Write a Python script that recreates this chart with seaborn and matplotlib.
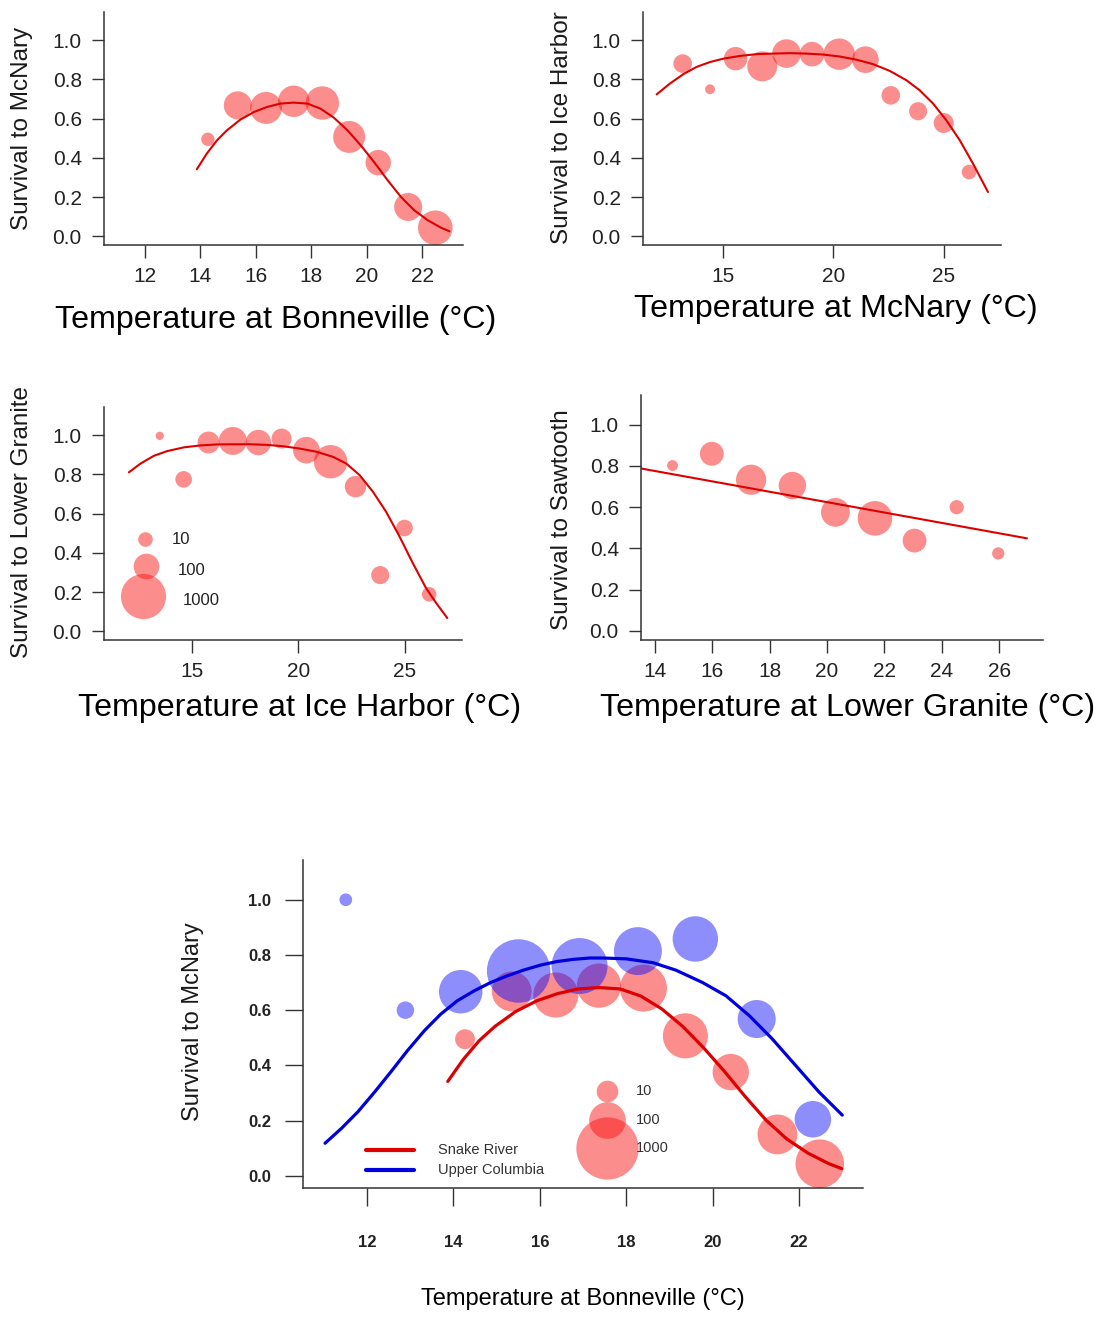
import numpy as np
import pandas as pd
import matplotlib
matplotlib.use("Agg")
import matplotlib.pyplot as plt
import seaborn as sns

sns.set_theme(style="ticks")
plt.rcParams["font.family"] = ["Liberation Sans", "DejaVu Sans"]

# ---------------- data ----------------
# Snake River: temperature at Bonneville vs survival to McNary
bon_temp = [14.27, 15.35, 16.37, 17.37, 18.40, 19.37, 20.42, 21.50, 22.48]
bon_surv = [0.495, 0.668, 0.655, 0.689, 0.680, 0.507, 0.376, 0.150, 0.044]
bon_n = [7, 143, 245, 227, 293, 245, 96, 143, 338]
bon_fit_t = [13.87, 14.23, 14.60, 14.96, 15.44, 15.93, 16.41, 16.89, 17.37, 17.86,
             18.34, 18.82, 19.31, 19.79, 20.27, 20.76, 21.24, 21.72, 22.21, 22.69, 22.99]
bon_fit_s = [0.342, 0.422, 0.490, 0.541, 0.595, 0.634, 0.660, 0.677, 0.682, 0.677,
             0.651, 0.605, 0.541, 0.464, 0.379, 0.286, 0.201, 0.133, 0.082, 0.044, 0.026]

# Temperature at McNary vs survival to Ice Harbor
mcn_temp = [13.16, 14.40, 15.56, 16.77, 17.87, 19.03, 20.26, 21.45, 22.60, 23.84, 25.00, 26.15]
mcn_surv = [0.881, 0.750, 0.906, 0.867, 0.932, 0.929, 0.929, 0.901, 0.719, 0.638, 0.578, 0.328]
mcn_n = [27, 2, 69, 189, 155, 84, 227, 116, 27, 24, 36, 10]
mcn_fit_t = [11.98, 12.58, 13.19, 13.79, 14.40, 15.00, 15.76, 16.51, 17.27, 18.02, 18.78,
             19.53, 20.29, 21.04, 21.80, 22.55, 23.31, 23.91, 24.52, 25.12, 25.73, 26.33, 27.01]
mcn_fit_s = [0.724, 0.779, 0.827, 0.864, 0.889, 0.906, 0.920, 0.929, 0.932, 0.934, 0.932,
             0.927, 0.917, 0.901, 0.878, 0.844, 0.796, 0.745, 0.677, 0.592, 0.490, 0.371, 0.226]

# Temperature at Ice Harbor vs survival to Lower Granite
ice_temp = [13.49, 14.61, 15.78, 16.92, 18.12, 19.21, 20.37, 21.51, 22.68, 23.84, 24.98, 26.14]
ice_surv = [0.997, 0.775, 0.963, 0.971, 0.963, 0.983, 0.924, 0.865, 0.738, 0.287, 0.527, 0.189]
ice_n = [1, 17, 53, 143, 96, 36, 116, 293, 48, 24, 17, 10]
ice_fit_t = [12.04, 12.59, 13.21, 13.83, 14.61, 15.39, 16.17, 16.95, 17.73, 18.50, 19.28,
             20.06, 20.84, 21.62, 22.24, 22.87, 23.49, 24.11, 24.74, 25.36, 25.98, 26.45, 26.99]
ice_fit_s = [0.811, 0.856, 0.895, 0.919, 0.938, 0.948, 0.953, 0.954, 0.954, 0.951, 0.944,
             0.932, 0.916, 0.890, 0.856, 0.797, 0.713, 0.611, 0.485, 0.350, 0.223, 0.147, 0.068]

# Temperature at Lower Granite vs survival to Sawtooth
lgr_temp = [14.61, 15.98, 17.35, 18.79, 20.29, 21.67, 23.05, 24.52, 25.97]
lgr_surv = [0.802, 0.859, 0.733, 0.705, 0.575, 0.546, 0.438, 0.600, 0.376]
lgr_n = [3, 74, 194, 131, 160, 338, 74, 9, 5]
lgr_fit_t = [13.46, 26.97]
lgr_fit_s = [0.789, 0.449]

# Upper Columbia: temperature at Bonneville vs survival to McNary
col_temp = [11.51, 12.89, 14.17, 15.51, 16.92, 18.27, 19.60, 21.02, 22.32]
col_surv = [1.000, 0.600, 0.667, 0.742, 0.760, 0.814, 0.858, 0.568, 0.205]
col_n = [1, 4, 209, 1080, 628, 320, 253, 117, 98]
col_fit_t = [11.03, 11.41, 11.79, 12.18, 12.56, 12.94, 13.33, 13.71, 14.09, 14.48, 14.86,
             15.24, 15.62, 16.01, 16.39, 16.77, 17.16, 17.46, 18.00, 18.62, 19.15, 19.77,
             20.31, 20.85, 21.38, 21.92, 22.46, 23.00]
col_fit_s = [0.118, 0.172, 0.232, 0.304, 0.378, 0.454, 0.526, 0.586, 0.634, 0.670, 0.700,
             0.724, 0.745, 0.763, 0.776, 0.784, 0.789, 0.789, 0.786, 0.772, 0.745, 0.700,
             0.652, 0.580, 0.496, 0.400, 0.304, 0.220]

legend_n = [10, 100, 1000]
y_ticks = [0.0, 0.2, 0.4, 0.6, 0.8, 1.0]

# ---------------- styling ----------------
W, H, DPI = 1105, 1318, 100
PT_PER_PX = 72.0 / DPI
PT_RED = (0.98, 0.05, 0.05)
PT_BLUE = (0.05, 0.05, 0.98)
LN_RED = "#dd0000"
LN_BLUE = "#0000dd"
AXC = "#333333"


def marker_area(n, r10, k):
    """Circle area (pt^2) for a sample size n; radius grows as a power of n."""
    r_px = r10 * (np.asarray(n, dtype=float) / 10.0) ** k
    return (2 * r_px * PT_PER_PX) ** 2


def add_axes(fig, left, top, right, bottom):
    return fig.add_axes([left / W, 1 - bottom / H, (right - left) / W, (bottom - top) / H])


def style_axes(ax, xlim, xticks, tick_len, label_size, pad, bold=False):
    ax.set_xlim(*xlim)
    ax.set_ylim(-0.044, 1.144)
    ax.set_xticks(xticks)
    ax.set_yticks(y_ticks)
    ax.set_yticklabels([f"{v:.1f}" for v in y_ticks])
    sns.despine(ax=ax)
    for sp in ("left", "bottom"):
        ax.spines[sp].set_color(AXC)
        ax.spines[sp].set_linewidth(1.1)
    ax.tick_params(axis="both", direction="out", length=tick_len, width=1.0,
                   color=AXC, labelcolor="#222222", labelsize=label_size, pad=pad)
    if bold:
        for lab in ax.get_xticklabels() + ax.get_yticklabels():
            lab.set_fontweight("bold")


def set_labels(ax, xlabel, ylabel, xpos, ypos, xsize, ysize):
    ax.set_xlabel(xlabel, fontsize=xsize, color="black")
    ax.set_ylabel(ylabel, fontsize=ysize, color="#1a1a1a")
    ax.xaxis.set_label_coords(*xpos)
    ax.yaxis.set_label_coords(*ypos)
    ax.xaxis.label.set_verticalalignment("center")
    ax.yaxis.label.set_verticalalignment("center")


def draw_panel(ax, temp, surv, n, fit_t, fit_s, r10, k, lw, pcol=PT_RED, lcol=LN_RED):
    df = pd.DataFrame({"temp": temp, "surv": surv})
    sns.scatterplot(data=df, x="temp", y="surv", ax=ax, s=marker_area(n, r10, k),
                    color=pcol, alpha=0.47, linewidth=0, zorder=2)
    fit = pd.DataFrame({"temp": fit_t, "surv": fit_s})
    sns.lineplot(data=fit, x="temp", y="surv", ax=ax, color=lcol, lw=lw,
                 errorbar=None, zorder=3)


fig = plt.figure(figsize=(W / DPI, H / DPI), dpi=DPI)

R10, K = 7.3, 0.245
XL, YL, TK = 23.2, 17.5, 15

# Panel A
ax1 = add_axes(fig, 104, 12, 463, 245)
draw_panel(ax1, bon_temp, bon_surv, bon_n, bon_fit_t, bon_fit_s, R10, K, 1.5)
style_axes(ax1, (10.52, 23.48), [12, 14, 16, 18, 20, 22], 9, TK, 7)
set_labels(ax1, "Temperature at Bonneville (°C)", "Survival to McNary",
           (0.479, -0.322), (-0.228, 0.502), XL, YL)

# Panel B
ax2 = add_axes(fig, 643, 12, 1001, 245)
draw_panel(ax2, mcn_temp, mcn_surv, mcn_n, mcn_fit_t, mcn_fit_s, R10, K, 1.5)
style_axes(ax2, (11.36, 27.6), [15, 20, 25], 9, TK, 7)
set_labels(ax2, "Temperature at McNary (°C)", "Survival to Ice Harbor",
           (0.539, -0.275), (-0.226, 0.502), XL, YL)

# Panel C
ax3 = add_axes(fig, 104, 407, 462, 640)
draw_panel(ax3, ice_temp, ice_surv, ice_n, ice_fit_t, ice_fit_s, R10, K, 1.5)
style_axes(ax3, (10.87, 27.68), [15, 20, 25], 9, TK, 7)
set_labels(ax3, "Temperature at Ice Harbor (°C)", "Survival to Lower Granite",
           (0.547, -0.292), (-0.229, 0.506), XL, YL)
# sample-size key
for nn, cx, cy, tx, ty in zip(legend_n, [0.115, 0.117, 0.110], [0.433, 0.316, 0.187],
                              [0.19, 0.205, 0.22], [0.433, 0.297, 0.168]):
    ax3.scatter([cx], [cy], s=marker_area(nn, R10, K), color=PT_RED, alpha=0.47,
                linewidth=0, transform=ax3.transAxes, zorder=2)
    ax3.text(tx, ty, str(nn), transform=ax3.transAxes, fontsize=12, color="#222222",
             ha="left", va="center")

# Panel D
ax4 = add_axes(fig, 641, 395, 1043, 640)
draw_panel(ax4, lgr_temp, lgr_surv, lgr_n, lgr_fit_t, lgr_fit_s, R10, K, 1.5)
style_axes(ax4, (13.51, 27.53), [14, 16, 18, 20, 22, 24, 26], 9, TK, 7)
set_labels(ax4, "Temperature at Lower Granite (°C)", "Survival to Sawtooth",
           (0.515, -0.278), (-0.197, 0.49), XL, YL)

# Panel E: both populations
R10B, KB = 10.8, 0.23
ax5 = add_axes(fig, 303, 860, 863, 1188)
draw_panel(ax5, bon_temp, bon_surv, bon_n, bon_fit_t, bon_fit_s, R10B, KB, 2.3)
draw_panel(ax5, col_temp, col_surv, col_n, col_fit_t, col_fit_s, R10B, KB, 2.3,
           pcol=PT_BLUE, lcol=LN_BLUE)
style_axes(ax5, (10.52, 23.48), [12, 14, 16, 18, 20, 22], 13, 12, 14, bold=True)
ax5.tick_params(axis="x", pad=21)
ax5.tick_params(axis="y", pad=10)
set_labels(ax5, "Temperature at Bonneville (°C)", "Survival to McNary",
           (0.5, -0.338), (-0.196, 0.506), 17, 17)

for nn, yy in zip(legend_n, [0.296, 0.207, 0.122]):
    ax5.scatter([0.543], [yy], s=marker_area(nn, R10B, KB), color=PT_RED, alpha=0.47,
                linewidth=0, transform=ax5.transAxes, zorder=4)
    ax5.text(0.594, yy, str(nn), transform=ax5.transAxes, fontsize=10.5, color="#333333",
             ha="left", va="center")
for lab, col, yy in zip(["Snake River", "Upper Columbia"], [LN_RED, LN_BLUE], [0.116, 0.055]):
    ax5.plot([0.1125, 0.198], [yy, yy], color=col, lw=3, transform=ax5.transAxes,
             solid_capstyle="round")
    ax5.text(0.241, yy, lab, transform=ax5.transAxes, fontsize=10.5, color="#333333",
             ha="left", va="center")

fig.savefig("out.png", dpi=DPI)
